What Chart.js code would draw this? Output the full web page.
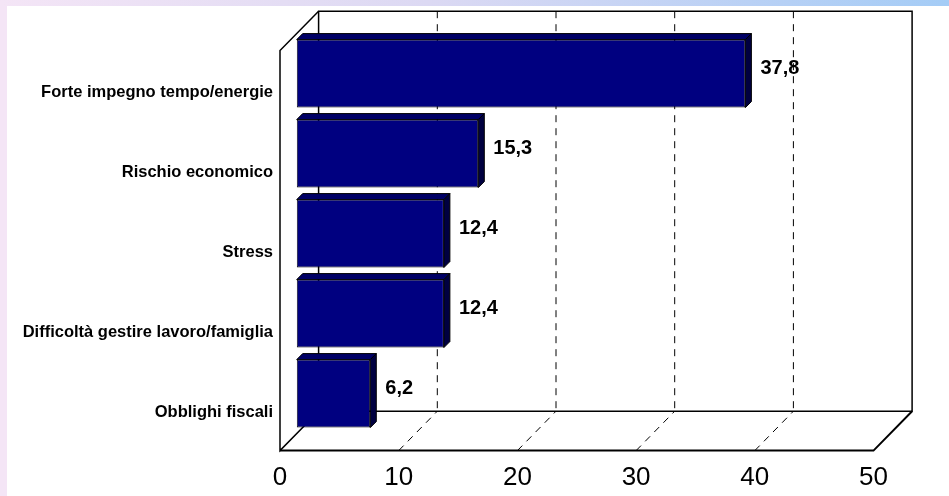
<!DOCTYPE html>
<html>
<head>
<meta charset="utf-8">
<script src="https://cdn.jsdelivr.net/npm/chart.js@4/dist/chart.umd.min.js"></script>
<style>
  html, body { margin: 0; padding: 0; background: #ffffff; }
  canvas { display: block; }
</style>
</head>
<body>
<canvas id="chart" width="949" height="496"></canvas>
<script>
// Categories and percentages
const categories = [
  'Forte impegno tempo/energie',
  'Rischio economico',
  'Stress',
  'Difficoltà gestire lavoro/famiglia',
  'Obblighi fiscali'
];
const values = [37.8, 15.3, 12.4, 12.4, 6.2];
const axisMin = 0;
const axisMax = 50;
const axisStep = 10;

// 3D box geometry (offsets relative to the plane of the bars' front faces)
const BACK = { dx: 21.9, dy: -22.4 };
const FRONT = { dx: -16.7, dy: 17.0 };
const BAR_DEPTH = 6;
const FONT = '"Liberation Sans", Arial, Helvetica, sans-serif';

const fmt = v => v.toFixed(1).replace('.', ',');

// Page decoration: thin tinted bands on the left and top edges
const backdrop = {
  id: 'backdrop',
  beforeDraw(chart) {
    const { ctx, width, height } = chart;
    ctx.save();
    ctx.fillStyle = '#ffffff';
    ctx.fillRect(0, 0, width, height);
    ctx.fillStyle = '#f4e5f6';
    ctx.fillRect(0, 0, 7, height);
    const g = ctx.createLinearGradient(0, 0, width, 0);
    g.addColorStop(0, '#f4e5f6');
    g.addColorStop(0.45, '#dcd9f3');
    g.addColorStop(1, '#a4ccf6');
    ctx.fillStyle = g;
    ctx.fillRect(0, 0, width, 6);
    ctx.restore();
  }
};

function line(ctx, x1, y1, x2, y2) {
  ctx.beginPath();
  ctx.moveTo(x1, y1);
  ctx.lineTo(x2, y2);
  ctx.stroke();
}

// Walls, floor and dashed gridlines of the 3D box
const box3d = {
  id: 'box3d',
  beforeDatasetsDraw(chart) {
    const { ctx, chartArea } = chart;
    const xs = chart.scales.x;
    const top = chartArea.top, bottom = chartArea.bottom;
    const x0 = xs.getPixelForValue(axisMin);
    const xN = xs.getPixelForValue(axisMax);
    ctx.save();
    ctx.strokeStyle = '#000000';

    // dashed gridlines on back wall and floor
    ctx.lineWidth = 1;
    ctx.setLineDash([7, 6]);
    for (let v = axisMin + axisStep; v < axisMax; v += axisStep) {
      const px = xs.getPixelForValue(v);
      line(ctx, px + BACK.dx, top + BACK.dy, px + BACK.dx, bottom + BACK.dy);
      line(ctx, px + FRONT.dx, bottom + FRONT.dy, px + BACK.dx, bottom + BACK.dy);
    }
    ctx.setLineDash([]);

    ctx.lineWidth = 1.5;
    // back wall
    ctx.beginPath();
    ctx.moveTo(x0 + BACK.dx, bottom + BACK.dy);
    ctx.lineTo(x0 + BACK.dx, top + BACK.dy);
    ctx.lineTo(xN + BACK.dx, top + BACK.dy);
    ctx.lineTo(xN + BACK.dx, bottom + BACK.dy);
    ctx.lineTo(x0 + BACK.dx, bottom + BACK.dy);
    ctx.stroke();
    // left wall
    ctx.beginPath();
    ctx.moveTo(x0 + BACK.dx, top + BACK.dy);
    ctx.lineTo(x0 + FRONT.dx, top + FRONT.dy);
    ctx.lineTo(x0 + FRONT.dx, bottom + FRONT.dy);
    ctx.lineTo(x0 + BACK.dx, bottom + BACK.dy);
    ctx.stroke();
    // floor
    ctx.lineWidth = 2;
    ctx.beginPath();
    ctx.moveTo(x0 + FRONT.dx, bottom + FRONT.dy);
    ctx.lineTo(xN + FRONT.dx, bottom + FRONT.dy);
    ctx.lineTo(xN + BACK.dx, bottom + BACK.dy);
    ctx.stroke();
    ctx.restore();
  },
  afterDatasetsDraw(chart) {
    const { ctx } = chart;
    const meta = chart.getDatasetMeta(0);
    const d = BAR_DEPTH;
    ctx.save();
    ctx.lineWidth = 1;
    ctx.strokeStyle = '#000000';
    meta.data.forEach((bar, i) => {
      const { x, y, base, height } = bar.getProps(['x', 'y', 'base', 'height'], true);
      const t = y - height / 2, b = y + height / 2;
      // top face
      ctx.fillStyle = '#000066';
      ctx.beginPath();
      ctx.moveTo(base, t);
      ctx.lineTo(base + d, t - d);
      ctx.lineTo(x + d, t - d);
      ctx.lineTo(x, t);
      ctx.closePath();
      ctx.fill();
      ctx.stroke();
      // side face
      ctx.fillStyle = '#000040';
      ctx.beginPath();
      ctx.moveTo(x, t);
      ctx.lineTo(x + d, t - d);
      ctx.lineTo(x + d, b - d);
      ctx.lineTo(x, b);
      ctx.closePath();
      ctx.fill();
      ctx.stroke();
      // value label
      ctx.fillStyle = '#000000';
      ctx.font = 'bold 20px ' + FONT;
      ctx.textAlign = 'left';
      ctx.textBaseline = 'middle';
      ctx.fillText(fmt(values[i]), x + d + 9, y - 5);
    });
    ctx.restore();
  }
};

new Chart(document.getElementById('chart'), {
  type: 'bar',
  data: {
    labels: categories,
    datasets: [{
      data: values,
      backgroundColor: '#000080',
      borderColor: '#000000',
      borderWidth: 1,
      borderSkipped: false,
      barPercentage: 0.85,
      categoryPercentage: 1.0
    }]
  },
  options: {
    indexAxis: 'y',
    responsive: false,
    animation: false,
    devicePixelRatio: 1,
    layout: { padding: { top: 31.5, right: 58.8, left: 0, bottom: 0 } },
    plugins: {
      legend: { display: false },
      tooltip: { enabled: false },
      title: { display: false }
    },
    scales: {
      x: {
        type: 'linear',
        min: axisMin,
        max: axisMax,
        grid: { display: false, drawTicks: false },
        border: { display: false },
        ticks: {
          stepSize: axisStep,
          padding: 29,
          labelOffset: FRONT.dx,
          color: '#000000',
          font: { family: FONT, size: 26 }
        },
        afterFit(scale) { scale.height = 62.4; }
      },
      y: {
        type: 'category',
        grid: { display: false, drawTicks: false },
        border: { display: false },
        ticks: {
          autoSkip: false,
          padding: 23.7,
          labelOffset: 19,
          color: '#000000',
          font: { family: FONT, size: 16.5, weight: 'bold' }
        },
        afterFit(scale) { scale.width = 296.7; }
      }
    }
  },
  plugins: [backdrop, box3d]
});
</script>
</body>
</html>
